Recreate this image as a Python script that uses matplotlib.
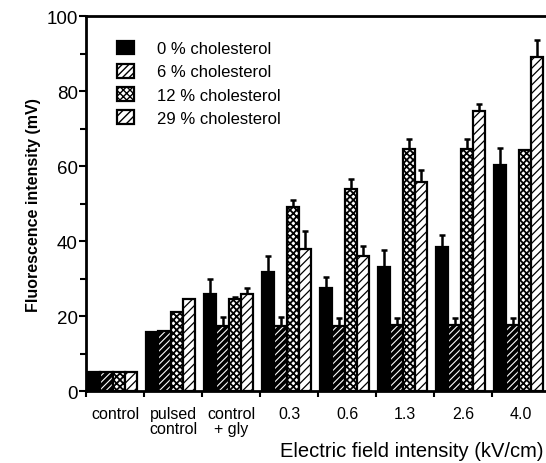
import matplotlib
matplotlib.use("Agg")
import matplotlib.pyplot as plt
import numpy as np

plt.rcParams["font.family"] = ["Liberation Sans", "DejaVu Sans"]

groups = ["control", "pulsed\ncontrol", "control\n+ gly", "0.3", "0.6", "1.3", "2.6", "4.0"]
series = ["0 % cholesterol", "6 % cholesterol", "12 % cholesterol", "29 % cholesterol"]

chol_0 = [5, 15.8, 26, 31.7, 27.6, 33.2, 38.3, 60.4]
chol_6 = [5, 16, 17.4, 17.4, 17.4, 17.5, 17.5, 17.5]
chol_12 = [5, 21, 24.6, 49, 54, 64.5, 64.5, 64.3]
chol_29 = [5, 24.5, 26, 38, 36, 55.8, 74.6, 89]

err_0 = [0, 0, 4, 4.3, 2.7, 4.5, 3.3, 4.4]
err_6 = [0, 0, 2.3, 2.3, 2.1, 2, 2, 2]
err_12 = [0, 0, 0.5, 2, 2.5, 2.7, 2.7, 0]
err_29 = [0, 0, 1.5, 4.7, 2.6, 3.2, 1.9, 4.6]

values = [chol_0, chol_6, chol_12, chol_29]
errors = [err_0, err_6, err_12, err_29]
styles = [
    dict(facecolor="black", hatch=None, hlw=1.0),
    dict(facecolor="white", hatch="/////", hlw=2.6),
    dict(facecolor="white", hatch="xxxxx", hlw=1.3),
    dict(facecolor="white", hatch="////", hlw=0.9),
]

fig = plt.figure(figsize=(5.46, 4.64), dpi=100)
ax = fig.add_axes([0.1575, 0.155, 0.85, 0.808])

n = len(groups)
width = 0.2125
start = 0.035
for j, (vals, errs, st) in enumerate(zip(values, errors, styles)):
    x = np.arange(n) + start + width * (j + 0.5)
    with plt.rc_context({"hatch.linewidth": st["hlw"]}):
        bars = ax.bar(x, vals, width=width, color=st["facecolor"], edgecolor="black",
                      linewidth=1.6, hatch=st["hatch"], label=series[j], zorder=2)
        for b in bars:
            if hasattr(b, "set_hatch_linewidth"):
                b.set_hatch_linewidth(st["hlw"])
    yerr = np.array([np.zeros(n), errs])
    mask = np.array(errs) > 0
    ax.errorbar(x[mask], np.array(vals)[mask], yerr=yerr[:, mask], fmt="none",
                ecolor="black", elinewidth=1.8, capsize=2, capthick=1.8, zorder=1)

ax.set_xlim(0, n)
ax.set_ylim(0, 100)

ax.set_xticks(np.arange(n + 1))
ax.set_xticklabels([])
ax.set_xticks(np.arange(n) + 0.5, minor=True)
ax.set_xticklabels(groups, minor=True, fontsize=11.5, linespacing=1.0)
ax.tick_params(axis="x", which="major", direction="out", length=4, width=1.5)
ax.tick_params(axis="x", which="minor", length=0, pad=11)

ax.set_yticks(np.arange(0, 101, 20))
ax.set_yticks(np.arange(10, 100, 20), minor=True)
ax.tick_params(axis="y", which="major", direction="out", length=5, width=1.5, labelsize=13.5, pad=1)
ax.tick_params(axis="y", which="minor", direction="out", length=4, width=1.5)

for s in ["left", "bottom", "top"]:
    ax.spines[s].set_linewidth(2)
ax.spines["right"].set_visible(False)

ax.set_ylabel("Fluorescence intensity (mV)", fontsize=11.5, fontweight="bold", labelpad=4)
fig.text(0.513, 0.015, "Electric field intensity (kV/cm)", fontsize=14.5, ha="left", va="baseline")

ax.legend(loc="upper left", bbox_to_anchor=(0.035, 0.975), frameon=False, fontsize=12,
          handlelength=1.0, handleheight=0.9, handletextpad=1.4, labelspacing=0.45)

fig.savefig("out.png", dpi=100)
